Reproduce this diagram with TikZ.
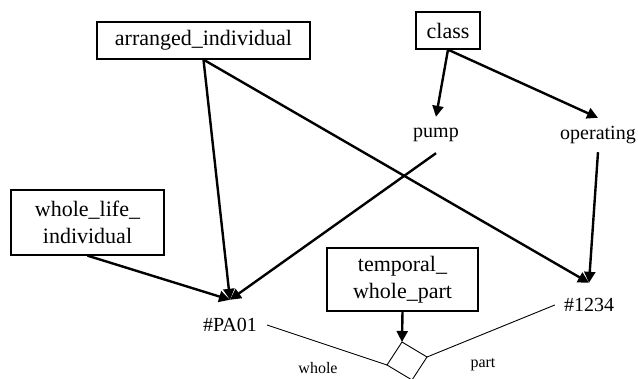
\documentclass[tikz,border=0pt]{standalone}
\usepackage{fontspec}
\setmainfont{Liberation Serif}
\usetikzlibrary{arrows.meta}
\begin{document}
\begin{tikzpicture}[x=1pt,y=-1pt,
  box/.style={draw,line width=1.3pt,inner sep=0pt,align=center,font=\fontsize{22}{27}\selectfont},
  lbl/.style={inner sep=0pt,font=\fontsize{20}{24}\selectfont},
  small/.style={inner sep=0pt,font=\fontsize{16}{19}\selectfont},
  rel/.style={line width=2.4pt,-{Triangle[length=11pt,width=11pt]}},
  thin/.style={line width=0.9pt}]
\useasboundingbox (0,0) rectangle (638,378);
\node[box,minimum width=213pt,minimum height=37pt] (ai) at (203.5,40.5) {arranged\_individual};
\node[box,minimum width=64pt,minimum height=37pt] (cl) at (448,30.5) {class};
\node[box,minimum width=153pt,minimum height=65pt] (wl) at (87.5,222.5) {whole\_life\_\\individual};
\node[box,minimum width=151pt,minimum height=63pt] (tw) at (402.5,279.5) {temporal\_\\whole\_part};
\node[lbl,minimum height=36pt] (pump) at (436,135) {pump};
\node[lbl,minimum height=34pt] (op) at (598,135) {operating};
\node[lbl,inner xsep=10pt,minimum height=50pt] (pa) at (230,325) {\#PA01};
\node[lbl,inner xsep=9pt,minimum height=44pt] (n1) at (589,305) {\#1234};
\node[small] (wh) at (318,368) {whole};
\node[small] (pt) at (483,365) {part};
\coordinate (dT) at (402,342);
\coordinate (dR) at (427,357);
\coordinate (dL) at (387,365);
\coordinate (dB) at (412,380);
\draw[rel] (cl.south) -- (pump.north);
\draw[rel] (cl.south) -- (op.north);
\draw[rel] (ai.south) -- (pa.north);
\draw[rel] (ai.south) -- (n1.north);
\draw[rel] (wl.south) -- (pa.north);
\draw[rel] (pump.south) -- (pa.north);
\draw[rel] (op.south) -- (n1.north);
\draw[rel] (tw.south) -- (dT);
\draw[thin] (dT) -- (dR) -- (dB) -- (dL) -- cycle;
\draw[thin] (pa.east) -- (dL);
\draw[thin] (n1.west) -- (dR);
\end{tikzpicture}
\end{document}
